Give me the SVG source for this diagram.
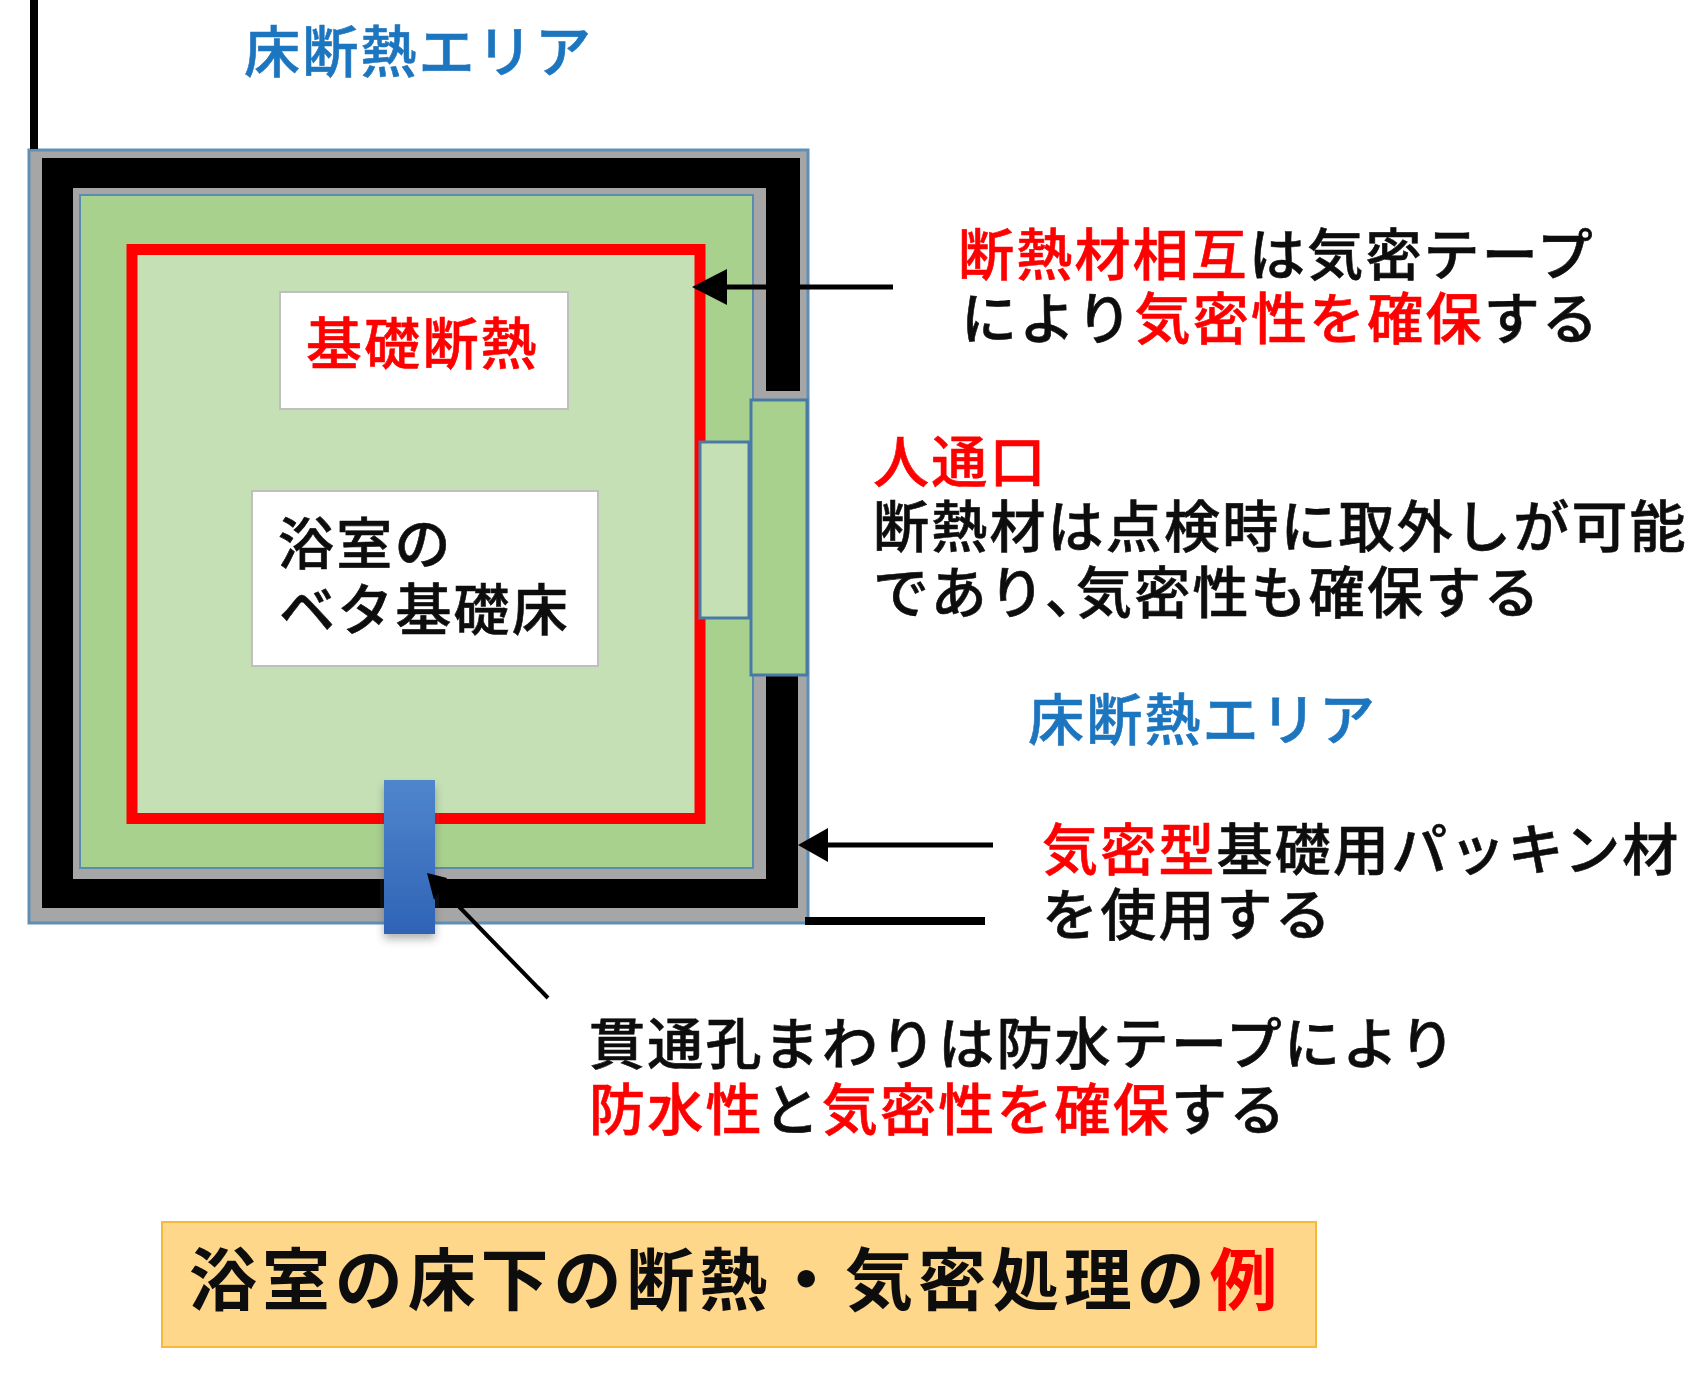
<svg xmlns="http://www.w3.org/2000/svg" width="1708" height="1380" viewBox="0 0 1708 1380">
<style>
text{font-family:"Noto Sans CJK JP","Noto Sans",sans-serif;font-size:56px;font-weight:500;letter-spacing:2.2px;fill:#111;stroke:#111;stroke-width:.6px}
.r{fill:#f00;stroke:#f00}
.b{fill:#1f75bf;stroke:#1f75bf}
.t{font-size:68px;letter-spacing:4.9px;font-weight:700;stroke-width:0}
.lb{fill:#fff;stroke:#bfbfbf;stroke-width:2}
.door{stroke:#4a7aa5;stroke-width:3}
.ln{stroke:#000;fill:none}
</style>
<defs>
<linearGradient id="tape" x1="0" y1="0" x2="0" y2="1"><stop offset="0" stop-color="#4f86cc"/><stop offset="1" stop-color="#2f63b6"/></linearGradient>
<filter id="sh" x="-40%" y="-10%" width="180%" height="120%"><feGaussianBlur stdDeviation="4"/></filter>
<filter id="soft" filterUnits="userSpaceOnUse" x="0" y="0" width="1708" height="1380"><feGaussianBlur stdDeviation="0.7"/></filter>
</defs>
<rect width="1708" height="1380" fill="#fff"/>
<g id="diagram" filter="url(#soft)">
<g id="wall">
<rect x="29" y="150" width="779" height="773" fill="#a6a6a6" stroke="#5f8fb5" stroke-width="3"/>
<path d="M766 675H798V908H42V158H800V391H766Z" fill="#000"/>
<rect x="73" y="188" width="693" height="691" fill="#a6a6a6"/>
</g>
<g id="insulation">
<rect x="80" y="195" width="673" height="673" fill="#a9d18e" stroke="#5b8bb0" stroke-width="2"/>
<rect x="132" y="249.500" width="568" height="569" fill="#c5e0b4" stroke="#f00" stroke-width="11"/>
</g>
<g id="label-kiso">
<rect class="lb" x="280" y="292" width="288" height="117"/>
<text class="r" x="306" y="364">基礎断熱</text>
</g>
<g id="label-floor">
<rect class="lb" x="252" y="491" width="346" height="175"/>
<text x="278" y="564">浴室の</text>
<text x="279" y="630">ベタ基礎床</text>
</g>
<g id="door">
<rect class="door" x="751" y="400" width="56" height="275" fill="#a9d18e"/>
<rect class="door" x="700" y="442" width="49" height="176" fill="#c5e0b4"/>
</g>
<g id="tape-node">
<rect x="384" y="786" width="51" height="153" fill="#555" opacity=".45" filter="url(#sh)"/>
<rect x="384" y="780" width="51" height="154" fill="url(#tape)"/>
</g>
<g id="connectors">
<path class="ln" d="M34 0V149" stroke-width="8"/>
<path class="ln" d="M893 287H725" stroke-width="5"/>
<path d="M692 287L727 269V305Z"/>
<path class="ln" d="M993 845H825" stroke-width="5"/>
<path d="M798 845L828 828V862Z"/>
<path class="ln" d="M805 921H985" stroke-width="8"/>
<path class="ln" d="M548 998L438 885" stroke-width="4"/>
<path d="M427 873L447 878L434 900Z"/>
</g>
<g id="title-top"><text class="b" x="244" y="72">床断熱エリア</text></g>
<g id="note-seal">
<text x="958" y="275"><tspan class="r">断熱材相互</tspan>は気密テープ</text>
<text x="961" y="339">により<tspan class="r">気密性を確保</tspan>する</text>
</g>
<g id="note-access">
<text class="r" x="873" y="482">人通口</text>
<text x="873" y="547">断熱材は点検時に取外しが可能</text>
<text x="873" y="613">であり、<tspan dx="-27">気密性も確保する</tspan></text>
</g>
<g id="title-right"><text class="b" x="1028" y="740">床断熱エリア</text></g>
<g id="note-packing">
<text x="1042" y="870"><tspan class="r">気密型</tspan>基礎用パッキン材</text>
<text x="1042" y="935">を使用する</text>
</g>
<g id="note-tape">
<text x="589" y="1064">貫通孔まわりは防水テープにより</text>
<text x="589" y="1130"><tspan class="r">防水性</tspan>と<tspan class="r">気密性を確保</tspan>する</text>
</g>
<g id="caption">
<rect x="162" y="1222" width="1154" height="125" fill="#ffd78a" stroke="#f5b93a" stroke-width="2"/>
<text class="t" x="189" y="1305">浴室の床下の断熱・気密処理の<tspan class="r">例</tspan></text>
</g>
</g>
</svg>
